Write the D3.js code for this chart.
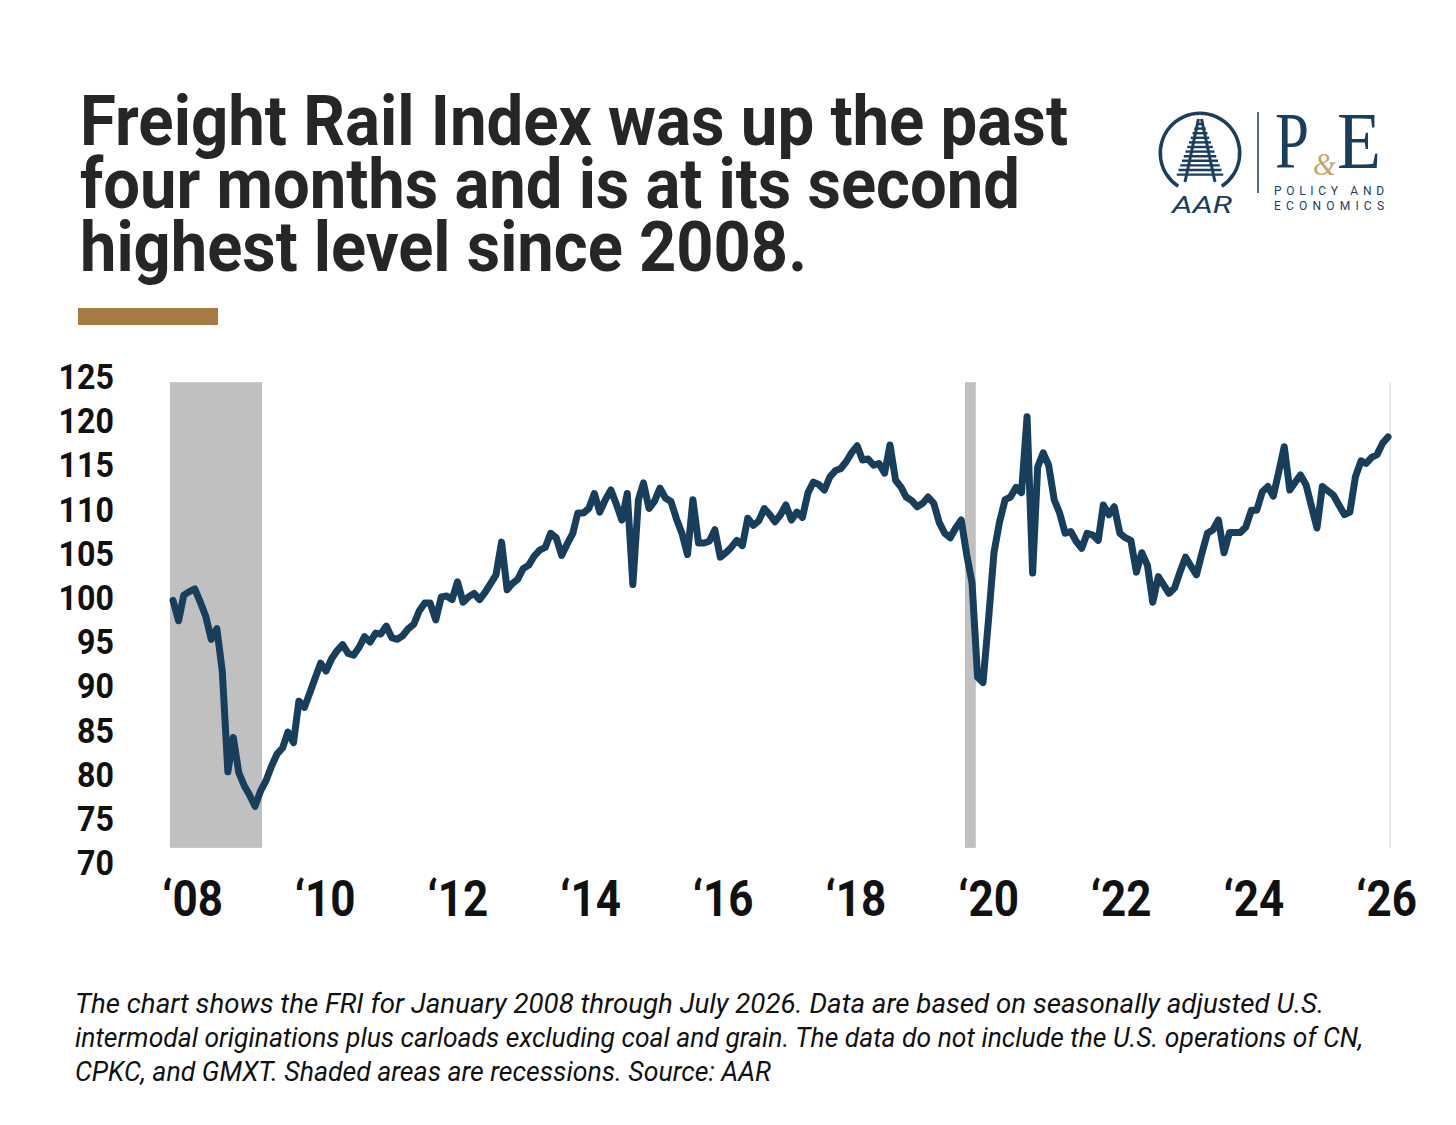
<!DOCTYPE html>
<html>
<head>
<meta charset="utf-8">
<script src="https://cdn.jsdelivr.net/npm/d3@7"></script>
<style>
  html, body { margin: 0; padding: 0; background: #fff; }
  svg { display: block; }
</style>
</head>
<body>
<svg id="chart" width="1456" height="1125"></svg>
<script>
// FRI monthly values, Jan 2008 .. Jul 2026
const fri2008 = [99.6, 97.3, 100.2, 100.6, 100.9, 99.4, 97.8, 95.2, 96.4, 91.6, 80.2, 84.1];
const fri2009 = [80.1, 78.6, 77.6, 76.3, 78.0, 79.2, 80.8, 82.2, 82.9, 84.7, 83.5, 88.2];
const fri2010 = [87.5, 89.2, 90.8, 92.5, 91.6, 93.0, 93.9, 94.6, 93.6, 93.4, 94.3, 95.5];
const fri2011 = [94.9, 95.9, 95.8, 96.7, 95.4, 95.2, 95.6, 96.4, 96.9, 98.4, 99.3, 99.3];
const fri2012 = [97.4, 100.0, 100.1, 99.7, 101.7, 99.4, 100.0, 100.4, 99.7, 100.5, 101.5, 102.5];
const fri2013 = [106.2, 100.8, 101.5, 102.0, 103.2, 103.6, 104.6, 105.3, 105.6, 107.2, 106.7, 104.7];
const fri2014 = [106.0, 107.2, 109.5, 109.5, 110.0, 111.7, 109.6, 111.0, 112.1, 110.5, 108.7, 111.7];
const fri2015 = [101.4, 111.0, 112.9, 110.0, 110.8, 112.3, 111.2, 110.8, 108.8, 107.2, 104.8, 111.0];
const fri2016 = [106.1, 106.1, 106.3, 107.6, 104.5, 105.0, 105.6, 106.4, 105.8, 108.9, 108.1, 108.6];
const fri2017 = [110.0, 109.3, 108.5, 109.3, 110.4, 108.7, 109.6, 109.0, 111.8, 113.0, 112.7, 112.1];
const fri2018 = [113.6, 114.3, 114.5, 115.3, 116.3, 117.1, 115.5, 115.6, 114.9, 115.1, 114.0, 117.2];
const fri2019 = [113.2, 112.4, 111.3, 110.9, 110.2, 110.6, 111.3, 110.6, 108.4, 107.2, 106.7, 107.8];
const fri2020 = [108.7, 104.7, 101.6, 90.9, 90.3, 97.5, 105.0, 108.5, 111.0, 111.3, 112.4, 111.8];
const fri2021 = [120.4, 102.7, 114.7, 116.3, 114.9, 111.0, 109.5, 107.2, 107.4, 106.3, 105.5, 107.2];
const fri2022 = [107.0, 106.4, 110.4, 109.3, 110.2, 107.2, 106.7, 106.4, 102.8, 105.0, 103.6, 99.4];
const fri2023 = [102.3, 101.3, 100.4, 101.0, 102.8, 104.5, 103.5, 102.5, 105.0, 107.2, 107.6, 108.7];
const fri2024 = [105.0, 107.3, 107.3, 107.3, 107.9, 109.8, 109.8, 111.9, 112.5, 111.4, 114.2, 117.0];
const fri2025 = [112.1, 113.0, 113.8, 112.7, 110.3, 107.8, 112.5, 112.0, 111.5, 110.4, 109.3, 109.6];
const fri2026 = [113.6, 115.4, 115.1, 115.8, 116.1, 117.4, 118.1];

const yTicks = [70, 75, 80, 85, 90, 95, 100, 105, 110, 115, 120, 125];
const xTickLabels = ["‘08", "‘10", "‘12", "‘14", "‘16", "‘18", "‘20", "‘22", "‘24", "‘26"];
const recessionStarts = ["2007-12-15", "2020-01-22"];
const recessionEnds = ["2009-05-10", "2020-03-22"];

const titleLines = [
  "Freight Rail Index was up the past",
  "four months and is at its second",
  "highest level since 2008."
];
const noteLines = [
  "The chart shows the FRI for January 2008 through July 2026. Data are based on seasonally adjusted U.S.",
  "intermodal originations plus carloads excluding coal and grain. The data do not include the U.S. operations of CN,",
  "CPKC, and GMXT. Shaded areas are recessions. Source: AAR"
];

const fri = [].concat(fri2008, fri2009, fri2010, fri2011, fri2012, fri2013, fri2014, fri2015,
  fri2016, fri2017, fri2018, fri2019, fri2020, fri2021, fri2022, fri2023, fri2024, fri2025, fri2026);
const firstMonth = new Date(2008, 0, 1);
const months = fri.map((v, i) => d3.timeMonth.offset(firstMonth, i));

const navy = "#173f5c";
const ink = "#111";
const svg = d3.select("#chart");
svg.append("rect").attr("width", 1456).attr("height", 1125).attr("fill", "#fff");

// title
const titleW = [988, 940, 727];
svg.append("g").selectAll("text").data(titleLines).join("text")
  .attr("x", 80).attr("y", (d, i) => 145 + i * 63)
  .attr("textLength", (d, i) => titleW[i]).attr("lengthAdjust", "spacingAndGlyphs")
  .attr("font-family", "Roboto, 'Noto Sans', sans-serif").attr("font-weight", 700)
  .attr("font-size", 70).attr("fill", "#262626")
  .text(d => d);

svg.append("rect").attr("x", 78).attr("y", 308).attr("width", 140).attr("height", 17).attr("fill", "#a57c43");

// scales
const x = d3.scaleTime().domain([months[0], months[months.length - 1]]).range([173, 1388]);
const y = d3.scaleLinear().domain([70, 125]).range([862, 376]);
const xLab = d3.scalePoint().domain(xTickLabels).range([192, 1386]);

// recession shading
const parse = d3.timeParse("%Y-%m-%d");
svg.append("g").selectAll("rect").data(recessionStarts).join("rect")
  .attr("x", d => x(parse(d)))
  .attr("width", (d, i) => x(parse(recessionEnds[i])) - x(parse(d)))
  .attr("y", y(124.3)).attr("height", y(71.6) - y(124.3))
  .attr("fill", "#c0c0c0");

// right edge line
svg.append("line")
  .attr("x1", x(months[months.length - 1]) + 2).attr("x2", x(months[months.length - 1]) + 2)
  .attr("y1", y(124.3)).attr("y2", y(71.6))
  .attr("stroke", "#e1e3ea").attr("stroke-width", 1.5);

// series
const line = d3.line().x((d, i) => x(months[i])).y(d => y(d));
svg.append("path").datum(fri)
  .attr("d", line)
  .attr("fill", "none").attr("stroke", navy).attr("stroke-width", 7)
  .attr("stroke-linejoin", "round").attr("stroke-linecap", "round");

// y axis
const gy = svg.append("g").attr("transform", "translate(114,0)")
  .call(d3.axisLeft(y).tickValues(yTicks).tickSize(0).tickPadding(0));
gy.select(".domain").remove();
gy.selectAll("text")
  .attr("font-family", "Roboto, sans-serif").attr("font-weight", 700).attr("font-size", 35)
  .attr("fill", ink).attr("dy", "0.36em").attr("transform", "scale(0.92,1)");

// x axis
const gx = svg.append("g").attr("transform", "translate(0,880)")
  .call(d3.axisBottom(xLab).tickSize(0).tickPadding(0));
gx.select(".domain").remove();
gx.selectAll("text")
  .attr("font-family", "Roboto, sans-serif").attr("font-weight", 700).attr("font-size", 50)
  .attr("fill", ink).attr("dy", "0.71em").attr("transform", "scale(0.88,1)");

// footnote
const noteW = [1249, 1288, 696];
svg.append("g").selectAll("text").data(noteLines).join("text")
  .attr("x", 75).attr("y", (d, i) => 1013 + i * 34)
  .attr("textLength", (d, i) => noteW[i]).attr("lengthAdjust", "spacingAndGlyphs")
  .attr("font-family", "Roboto, sans-serif").attr("font-style", "italic").attr("font-weight", 400)
  .attr("font-size", 28).attr("fill", ink)
  .text(d => d);

// logo
const logoBlue = "#1c3e5e";
const logo = svg.append("g");
logo.append("path").attr("transform", "translate(1200,153)")
  .attr("d", d3.arc()({innerRadius: 38, outerRadius: 41.5, startAngle: -(Math.PI - 0.58), endAngle: Math.PI - 0.58}))
  .attr("fill", logoBlue);
logo.append("line").attr("x1", 1198.5).attr("y1", 119).attr("x2", 1185).attr("y2", 182)
  .attr("stroke", logoBlue).attr("stroke-width", 3);
logo.append("line").attr("x1", 1201.5).attr("y1", 119).attr("x2", 1215).attr("y2", 182)
  .attr("stroke", logoBlue).attr("stroke-width", 3);
logo.append("g").selectAll("line").data(d3.range(12)).join("line")
  .attr("x1", k => 1200 - (4 + k * 1.75)).attr("x2", k => 1200 + (4 + k * 1.75))
  .attr("y1", k => 124 + k * 4.6).attr("y2", k => 124 + k * 4.6)
  .attr("stroke", logoBlue).attr("stroke-width", 2.4);
logo.append("text").attr("x", 1172).attr("y", 213)
  .attr("textLength", 60).attr("lengthAdjust", "spacingAndGlyphs")
  .attr("font-family", "Roboto, sans-serif").attr("font-style", "italic").attr("font-size", 24)
  .attr("fill", logoBlue).text("AAR");
logo.append("line").attr("x1", 1258).attr("x2", 1258).attr("y1", 112).attr("y2", 193)
  .attr("stroke", logoBlue).attr("stroke-width", 1.5);
logo.append("text").attr("x", 1275).attr("y", 168)
  .attr("textLength", 34).attr("lengthAdjust", "spacingAndGlyphs")
  .attr("font-family", "'Liberation Serif', 'DejaVu Serif', serif").attr("font-size", 80)
  .attr("fill", logoBlue).text("P");
logo.append("text").attr("x", 1337).attr("y", 168)
  .attr("textLength", 44).attr("lengthAdjust", "spacingAndGlyphs")
  .attr("font-family", "'Liberation Serif', 'DejaVu Serif', serif").attr("font-size", 80)
  .attr("fill", logoBlue).text("E");
logo.append("text").attr("x", 1313).attr("y", 175)
  .attr("textLength", 23).attr("lengthAdjust", "spacingAndGlyphs")
  .attr("font-family", "'Liberation Serif', 'DejaVu Serif', serif").attr("font-style", "italic")
  .attr("font-size", 32).attr("fill", "#c9a468").text("&");
logo.append("text").attr("x", 1274).attr("y", 195)
  .attr("textLength", 110).attr("lengthAdjust", "spacing")
  .attr("font-family", "Roboto, sans-serif").attr("font-size", 12).attr("fill", logoBlue)
  .text("POLICY AND");
logo.append("text").attr("x", 1274).attr("y", 210)
  .attr("textLength", 110).attr("lengthAdjust", "spacing")
  .attr("font-family", "Roboto, sans-serif").attr("font-size", 12).attr("fill", logoBlue)
  .text("ECONOMICS");
</script>
</body>
</html>
